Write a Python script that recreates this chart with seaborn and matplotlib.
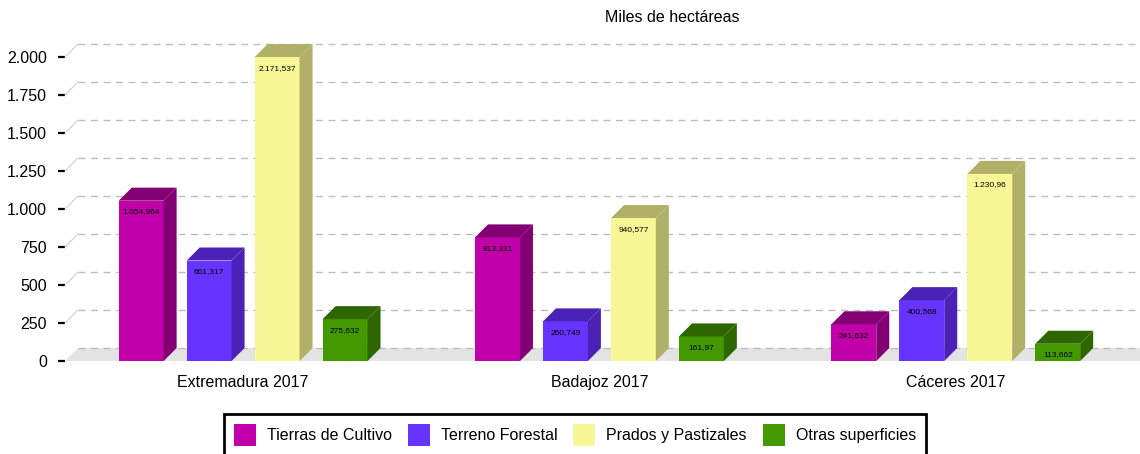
import numpy as np
import pandas as pd
import seaborn as sns
import matplotlib.pyplot as plt
from matplotlib.patches import Polygon, Patch

sns.set_style('white')
plt.rcParams['font.family'] = ['Liberation Sans', 'DejaVu Sans']
plt.rcParams['text.color'] = 'black'
plt.rcParams['xtick.color'] = 'black'
plt.rcParams['ytick.color'] = 'black'

regions = ['Extremadura 2017', 'Badajoz 2017', 'Cáceres 2017']
uses = ['Tierras de Cultivo', 'Terreno Forestal', 'Prados y Pastizales', 'Otras superficies']
cultivo = [1054.964, 813.331, 241.632]
forestal = [661.317, 260.749, 400.568]
prados = [2171.537, 940.577, 1230.96]
otras = [275.632, 161.97, 113.662]
yticks = [0, 250, 500, 750, 1000, 1250, 1500, 1750, 2000]

front = {'Tierras de Cultivo': '#c000a8', 'Terreno Forestal': '#6633ff',
         'Prados y Pastizales': '#f7f797', 'Otras superficies': '#449900'}
shade = {'Tierras de Cultivo': '#820073', 'Terreno Forestal': '#4a22b6',
         'Prados y Pastizales': '#b0b068', 'Otras superficies': '#2e6600'}

df = pd.DataFrame({
    'region': regions * 4,
    'uso': np.repeat(uses, len(regions)),
    'valor': cultivo + forestal + prados + otras,
})


def es_fmt(v):
    s = f"{v:,.3f}".rstrip('0').rstrip('.')
    return s.replace(',', 'X').replace('.', ',').replace('X', '.')


fig = plt.figure(figsize=(11.4, 4.54), dpi=100)
ax = fig.add_axes([0.057, 0.2048, 0.9377, 0.6696])

sns.barplot(data=df, x='region', y='valor', hue='uso', hue_order=uses,
            palette=front, saturation=1, width=0.763, gap=0.34, linewidth=0,
            errorbar=None, legend=False, ax=ax, zorder=2)

x0, x1 = -0.5, 2.5
ymax = 2000
ax.set_xlim(x0, x1)
ax.set_ylim(0, ymax)

# depth of the fake 3D effect, 13 px in both directions
px_x = ax.transData.transform((1, 0))[0] - ax.transData.transform((0, 0))[0]
px_y = ax.transData.transform((0, 1000))[1] - ax.transData.transform((0, 0))[1]
dx = 13 / px_x
dy = 13 * 1000 / px_y

# floor
ax.add_patch(Polygon([(x0, 0), (x1 + dx, 0), (x1 + dx, dy), (x0 + dx, dy)],
                     closed=True, facecolor='#e3e3e3', edgecolor='none',
                     clip_on=False, zorder=0.5))

# back wall grid
for v in yticks:
    ax.plot([x0 + dx, x1 + dx], [v + dy, v + dy], color='#bdbdbd', lw=1,
            ls=(0, (5, 4)), clip_on=False, zorder=0.6)
    if v > 0:
        ax.plot([x0, x0 + dx], [v, v + dy], color='#d0d0d0', lw=0.8,
                clip_on=False, zorder=0.6)

# side/top faces and value labels
for uso, cont in zip(uses, ax.containers):
    for rect, val in zip(cont, cont.datavalues):
        x, w = rect.get_x(), rect.get_width()
        top = min(rect.get_height(), ymax)
        side = Polygon([(x + w, 0), (x + w + dx, dy), (x + w + dx, top + dy), (x + w, top)],
                       closed=True, facecolor=shade[uso], edgecolor='none',
                       clip_on=False, zorder=2)
        cap = Polygon([(x, top), (x + dx, top + dy), (x + w + dx, top + dy), (x + w, top)],
                      closed=True, facecolor=shade[uso], edgecolor='none',
                      clip_on=False, zorder=2)
        ax.add_patch(side)
        ax.add_patch(cap)
        ax.annotate(es_fmt(val), (x + w / 2, top), xytext=(0, -8),
                    textcoords='offset points', ha='center', va='center',
                    fontsize=6, color='black', zorder=3)

ax.set_yticks(yticks)
ax.set_yticklabels([es_fmt(v) for v in yticks])
ax.set_xlabel('')
ax.set_ylabel('')
ax.tick_params(axis='y', direction='out', length=5, width=1.6, color='black',
               pad=8, labelsize=11.5, left=True)
ax.tick_params(axis='x', length=0, pad=10, labelsize=11.5)
for sp in ax.spines.values():
    sp.set_visible(False)

fig.text(672 / 1140, 1 - 18 / 454, 'Miles de hectáreas', ha='center', va='center', fontsize=11.5)

handles = [Patch(facecolor=front[u], edgecolor='none', label=u) for u in uses]
leg = fig.legend(handles=handles, loc='upper center', bbox_to_anchor=(575 / 1140, 1 - 414 / 454),
                 ncol=4, fontsize=11.5, frameon=True, fancybox=False, framealpha=1,
                 borderpad=0.6, handlelength=1.375, handleheight=1.75, handletextpad=0.69,
                 columnspacing=1.0, borderaxespad=0)
leg.get_frame().set_edgecolor('black')
leg.get_frame().set_linewidth(2)

fig.savefig('out.png', dpi=100)
